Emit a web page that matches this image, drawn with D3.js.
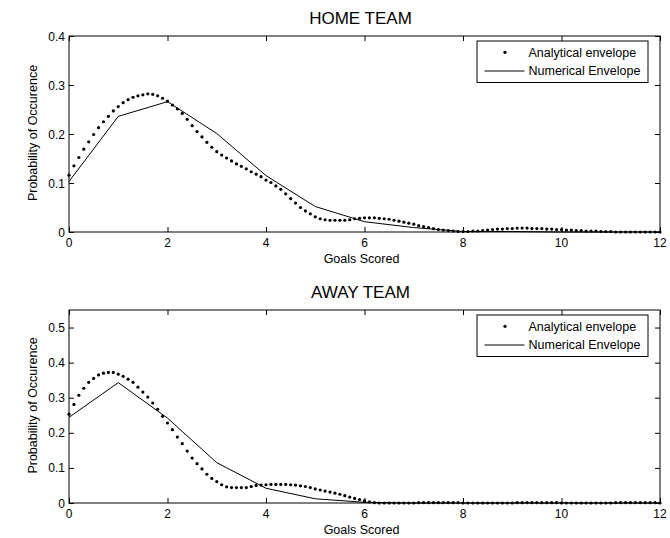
<!DOCTYPE html>
<html>
<head>
<meta charset="utf-8">
<script src="https://cdn.jsdelivr.net/npm/d3@7"></script>
<style>
  body { margin: 0; background: #fff; }
  text { font-family: "Liberation Sans", Arial, sans-serif; fill: #000; }
</style>
</head>
<body>
<div id="chart"></div>
<script>
// goals on the x axis: integer steps for the numerical envelope
const goals = [0, 1, 2, 3, 4, 5, 6, 7, 8, 9, 10, 11, 12];
// fine grid (step 0.1) for the analytical envelope
const goalsFine = d3.range(121).map(i => i / 10);

const xTicks = [0, 2, 4, 6, 8, 10, 12];
const homeYTicks = [0, 0.1, 0.2, 0.3, 0.4];
const awayYTicks = [0, 0.1, 0.2, 0.3, 0.4, 0.5];

const homeNumerical = [0.103, 0.236, 0.266, 0.201, 0.115, 0.052, 0.021, 0.009, 0.001, 0.001, 0, 0, 0];
const homeAnalytical = [
  0.116, 0.135, 0.152, 0.169, 0.184, 0.199, 0.213, 0.225, 0.236, 0.247,
  0.256, 0.264, 0.270, 0.275, 0.278, 0.280, 0.282, 0.281, 0.278, 0.273,
  0.267, 0.259, 0.251, 0.242, 0.230, 0.217, 0.205, 0.194, 0.183, 0.173,
  0.164, 0.157, 0.151, 0.145, 0.139, 0.134, 0.129, 0.123, 0.118, 0.113,
  0.106, 0.101, 0.094, 0.087, 0.078, 0.068, 0.059, 0.050, 0.043, 0.037,
  0.031, 0.027, 0.025, 0.024, 0.024, 0.024, 0.024, 0.025, 0.027, 0.028,
  0.029, 0.029, 0.029, 0.028, 0.027, 0.026, 0.024, 0.022, 0.020, 0.018,
  0.016, 0.013, 0.011, 0.009, 0.007, 0.005, 0.004, 0.003, 0.002, 0.001,
  0.001, 0.001, 0.002, 0.002, 0.003, 0.004, 0.005, 0.006, 0.006, 0.007,
  0.007, 0.008, 0.008, 0.008, 0.007, 0.007, 0.007, 0.006, 0.006, 0.005,
  0.005, 0.004, 0.004, 0.003, 0.003, 0.002, 0.002, 0.002, 0.001, 0.001,
  0.001, 0, 0, 0, 0, 0, 0, 0, 0, 0, 0
];

const awayNumerical = [0.244, 0.343, 0.242, 0.115, 0.042, 0.012, 0.002, 0, 0, 0, 0, 0, 0];
const awayAnalytical = [
  0.253, 0.281, 0.307, 0.327, 0.344, 0.355, 0.365, 0.370, 0.372, 0.372,
  0.367, 0.361, 0.353, 0.344, 0.330, 0.316, 0.302, 0.285, 0.267, 0.247,
  0.228, 0.209, 0.188, 0.169, 0.148, 0.128, 0.112, 0.097, 0.082, 0.070,
  0.061, 0.052, 0.046, 0.044, 0.044, 0.044, 0.044, 0.047, 0.050, 0.051,
  0.052, 0.053, 0.053, 0.053, 0.053, 0.052, 0.051, 0.049, 0.047, 0.044,
  0.040, 0.037, 0.034, 0.031, 0.028, 0.025, 0.021, 0.017, 0.013, 0.010,
  0.006, 0.003, 0.001, 0, 0, 0, 0, 0, 0, 0,
  0, 0.001, 0.001, 0.001, 0.001, 0.001, 0.001, 0.001, 0.001, 0.001,
  0, 0, 0, 0, 0, 0, 0, 0, 0, 0,
  0, 0.001, 0.001, 0.001, 0.001, 0.001, 0.001, 0.001, 0.001, 0.001,
  0, 0, 0, 0, 0, 0, 0, 0, 0, 0,
  0, 0.001, 0.001, 0.001, 0.001, 0.001, 0.001, 0.001, 0.001, 0.001, 0
];

const legendLabels = ['Analytical envelope', 'Numerical Envelope'];

const width = 670, height = 538;
const left = 69, right = 660;
const tickLen = 5;

const svg = d3.select('#chart')
  .append('svg')
  .attr('width', width)
  .attr('height', height);

const x = d3.scaleLinear().domain([0, 12]).range([left, right]);

// one MATLAB style subplot
function drawPanel(p) {
  const y = d3.scaleLinear().domain([0, p.yMax]).range([p.bottom, p.top]);
  const g = svg.append('g');

  // title
  g.append('text')
    .attr('x', (left + right) / 2 - 4)
    .attr('y', p.top - 12)
    .attr('text-anchor', 'middle')
    .attr('font-size', 17)
    .text(p.title);

  // inward ticks on all four sides
  const axisB = d3.axisBottom(x).tickValues(xTicks).tickSizeInner(-tickLen).tickSizeOuter(0).tickFormat('');
  const axisT = d3.axisTop(x).tickValues(xTicks).tickSizeInner(-tickLen).tickSizeOuter(0).tickFormat('');
  const axisL = d3.axisLeft(y).tickValues(p.yTicks).tickSizeInner(-tickLen).tickSizeOuter(0).tickFormat('');
  const axisR = d3.axisRight(y).tickValues(p.yTicks).tickSizeInner(-tickLen).tickSizeOuter(0).tickFormat('');

  g.append('g').attr('transform', `translate(0 ${p.bottom})`).call(axisB);
  g.append('g').attr('transform', `translate(0 ${p.top})`).call(axisT);
  g.append('g').attr('transform', `translate(${left} 0)`).call(axisL);
  g.append('g').attr('transform', `translate(${right} 0)`).call(axisR);
  g.selectAll('.domain').remove();
  g.selectAll('.tick line').attr('stroke', '#000').attr('stroke-width', 1);

  // tick labels
  g.selectAll('.xlab')
    .data(xTicks)
    .enter()
    .append('text')
    .attr('x', d => x(d))
    .attr('y', p.bottom + 14.5)
    .attr('text-anchor', 'middle')
    .attr('font-size', 12)
    .text(d => d);

  g.selectAll('.ylab')
    .data(p.yTicks)
    .enter()
    .append('text')
    .attr('x', left - 4)
    .attr('y', d => y(d) + 4.5)
    .attr('text-anchor', 'end')
    .attr('font-size', 12)
    .text(d => d === 0 ? '0' : d3.format('.1f')(d));

  // axis labels
  g.append('text')
    .attr('x', (left + right) / 2 - 3)
    .attr('y', p.bottom + 31)
    .attr('text-anchor', 'middle')
    .attr('font-size', 12.5)
    .text('Goals Scored');

  g.append('text')
    .attr('transform', `translate(36.5 ${(p.top + p.bottom) / 2 - 1}) rotate(-90)`)
    .attr('text-anchor', 'middle')
    .attr('font-size', 12.5)
    .text('Probability of Occurence');

  // numerical envelope
  const line = d3.line()
    .x((d, i) => x(goals[i]))
    .y(d => y(d));

  g.append('path')
    .datum(p.numerical)
    .attr('d', line)
    .attr('fill', 'none')
    .attr('stroke', '#000')
    .attr('stroke-width', 1);

  // analytical envelope as dots
  g.selectAll('.dot')
    .data(p.analytical)
    .enter()
    .append('circle')
    .attr('cx', (d, i) => x(goalsFine[i]))
    .attr('cy', d => y(d))
    .attr('r', 1.6)
    .attr('fill', '#000');

  // box
  g.append('rect')
    .attr('x', left)
    .attr('y', p.top)
    .attr('width', right - left)
    .attr('height', p.bottom - p.top)
    .attr('fill', 'none')
    .attr('stroke', '#000')
    .attr('stroke-width', 1);

  // legend
  const lg = g.append('g').attr('transform', `translate(477 ${p.top + 5})`);
  lg.append('rect')
    .attr('width', 171)
    .attr('height', 41.5)
    .attr('fill', '#fff')
    .attr('stroke', '#000')
    .attr('stroke-width', 1);
  lg.append('circle')
    .attr('cx', 28)
    .attr('cy', 11.3)
    .attr('r', 1.6)
    .attr('fill', '#000');
  lg.append('line')
    .attr('x1', 7.5)
    .attr('x2', 47.5)
    .attr('y1', 30)
    .attr('y2', 30)
    .attr('stroke', '#000')
    .attr('stroke-width', 1);
  lg.selectAll('.lgtext')
    .data(legendLabels)
    .enter()
    .append('text')
    .attr('x', 51.5)
    .attr('y', (d, i) => 15.7 + i * 18.5)
    .attr('font-size', 12.5)
    .text(d => d);
}

drawPanel({
  title: 'HOME TEAM',
  top: 36, bottom: 232, yMax: 0.4,
  yTicks: homeYTicks,
  numerical: homeNumerical,
  analytical: homeAnalytical
});

drawPanel({
  title: 'AWAY TEAM',
  top: 310, bottom: 503, yMax: 0.55,
  yTicks: awayYTicks,
  numerical: awayNumerical,
  analytical: awayAnalytical
});
</script>
</body>
</html>
